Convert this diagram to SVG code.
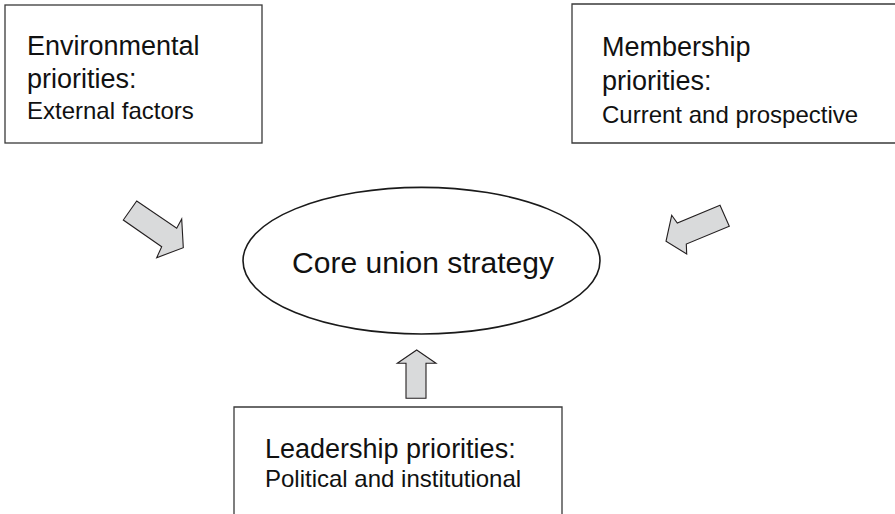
<svg xmlns="http://www.w3.org/2000/svg" width="895" height="514" viewBox="0 0 895 514">
<style>
.box{fill:#fff;stroke:#3a3a3a;stroke-width:1.3}
.t1{font-family:"Liberation Sans",Arial,sans-serif;font-size:27px;fill:#111}
.t2{font-family:"Liberation Sans",Arial,sans-serif;font-size:24px;fill:#111}
.arr{fill:#d9dadb;stroke:#231f20;stroke-width:1.1;stroke-linejoin:miter}
</style>
<rect width="895" height="514" fill="#fff"/>
<g id="environmental">
<rect class="box" x="5" y="5" width="257" height="138"/>
<text class="t1" x="27" y="55">Environmental</text>
<text class="t1" x="27" y="87.5">priorities:</text>
<text class="t2" x="27" y="119">External factors</text>
</g>
<g id="membership">
<path class="box" d="M900,4 H572 V143 H900"/>
<text class="t1" x="602" y="56">Membership</text>
<text class="t1" x="602" y="90">priorities:</text>
<text class="t2" x="602" y="123">Current and prospective</text>
</g>
<g id="core">
<ellipse cx="421.5" cy="260.7" rx="178.5" ry="73.3" fill="#fff" stroke="#1a1a1a" stroke-width="1.6"/>
<text x="423" y="273" text-anchor="middle" font-family="'Liberation Sans',Arial,sans-serif" font-size="30" fill="#111">Core union strategy</text>
</g>
<g id="leadership">
<path class="box" d="M234,520 V407 H562 V520"/>
<text class="t1" x="265" y="458">Leadership priorities:</text>
<text class="t2" x="265" y="487">Political and institutional</text>
</g>
<g id="connectors">
<polygon class="arr" points="136.7,201 176.7,228.3 181.7,219 183.3,247.7 156.7,257.7 161.7,246.7 123.3,220"/>
<polygon class="arr" points="720,205.3 677.3,223 671.7,215.3 666,241.3 686.7,254 686.3,244 729.3,226.3"/>
<polygon class="arr" points="416.7,350 436,363.3 426,363.3 426,398.3 406,398.3 406,363.3 397.3,363.3"/>
</g>
</svg>
